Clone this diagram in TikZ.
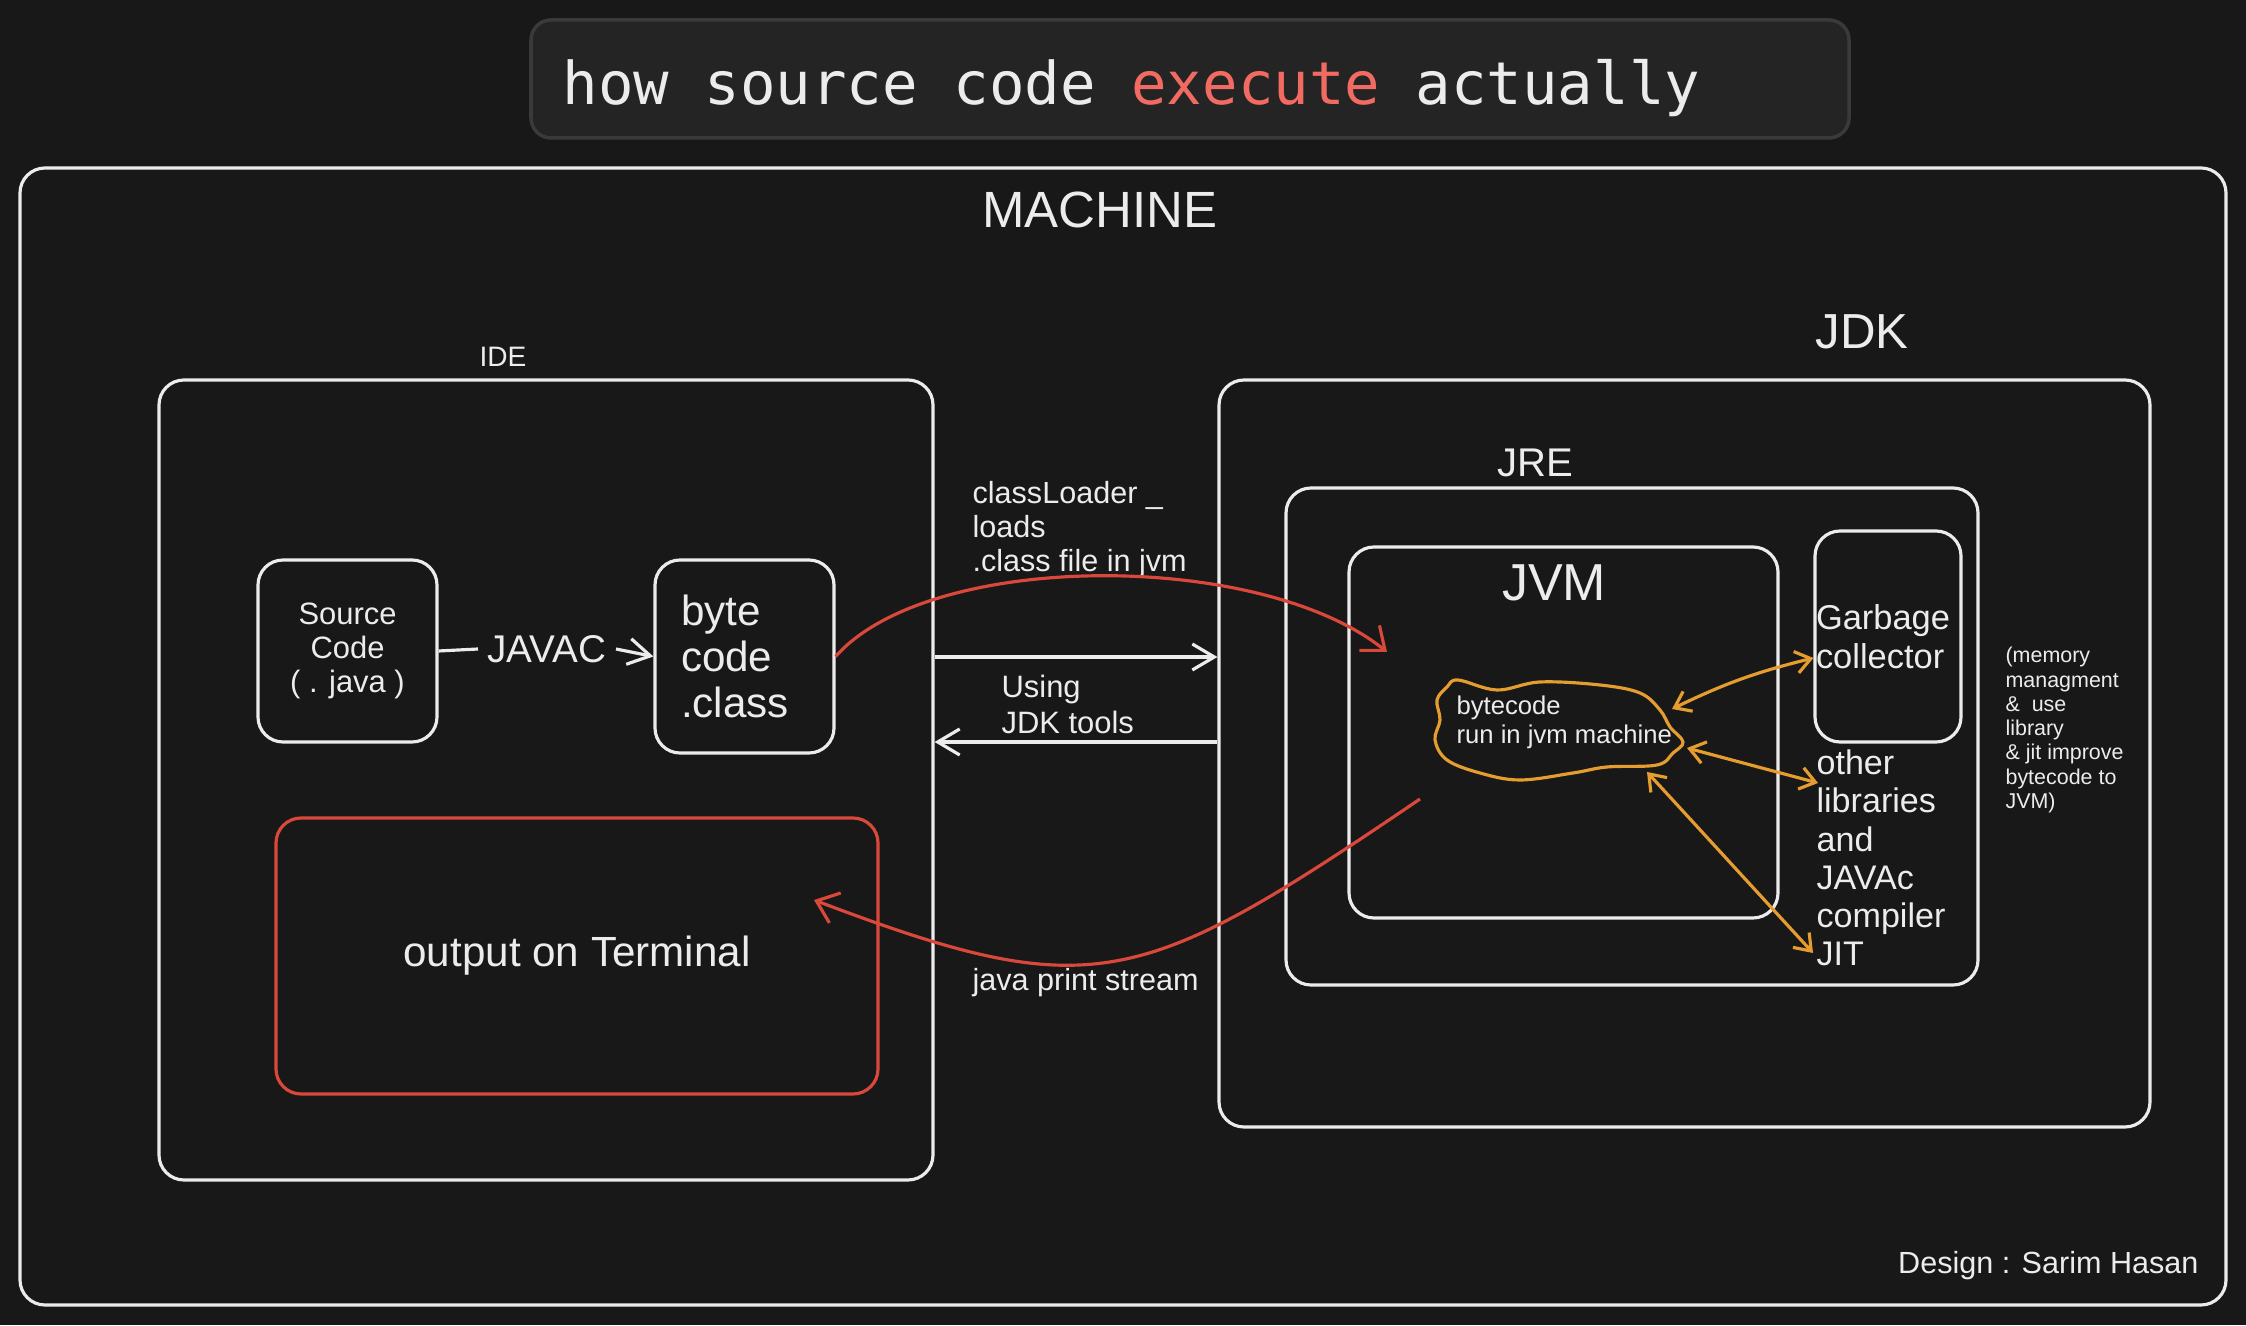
\documentclass[tikz,border=0pt]{standalone}
\usepackage{fontspec}
\setmainfont{Liberation Sans}
\newfontfamily\titlemono{DejaVu Sans Mono}
\usetikzlibrary{arrows.meta}

\definecolor{bgdark}{HTML}{181818}
\definecolor{bannerfill}{HTML}{242424}
\definecolor{bannerline}{HTML}{3A3A3A}
\definecolor{chalk}{HTML}{ECECEC}
\definecolor{penred}{HTML}{D9483B}
\definecolor{penorange}{HTML}{E59D2F}
\definecolor{salmon}{HTML}{F26B63}

\newcommand\fsz[2]{\fontsize{#1}{#2}\selectfont}

\begin{document}
\begin{tikzpicture}[line width=0.9pt,
	box/.style = {draw=chalk, rounded corners=0.25cm, inner sep=0pt},
	lbl/.style = {text=chalk, inner sep=0pt},
	whitearr/.style = {-{Straight Barb[length=0.22cm,width=0.26cm]}},
	redarr/.style = {-{Straight Barb[length=0.2cm,width=0.32cm]}},
	orarr/.style = {{Straight Barb[length=0.15cm,width=0.22cm]}-{Straight Barb[length=0.15cm,width=0.22cm]}}]
	
	% Background
	\fill[bgdark] (0,0) rectangle (22.46,13.25);
	
	% Title banner
	\node[draw=bannerline, fill=bannerfill, rounded corners=0.2cm, line width=1pt,
	      minimum width=13.18cm, minimum height=1.18cm] (banner) at (11.90,12.46) {};
	\node[lbl, anchor=west, font=\titlemono\fsz{16.8}{20}] (title) at (5.61,12.37)
	     {how source code \textcolor{salmon}{execute} actually};
	
	% Machine frame
	\node[box, minimum width=22.06cm, minimum height=11.37cm] (machine) at (11.23,5.885) {};
	\node[lbl, font=\fsz{14.5}{17}] (machinelbl) at (11.00,11.15) {MACHINE};
	
	% IDE side
	\node[box, minimum width=7.74cm, minimum height=8cm] (ide) at (5.46,5.45) {};
	\node[lbl, font=\fsz{8}{9}] (idelbl) at (5.03,9.68) {IDE};
	
	\node[box, minimum width=1.79cm, minimum height=1.82cm, align=center, text=chalk,
	      font=\fsz{8.8}{9.7}] (src) at (3.475,6.74) {Source\\Code\\( . java )};
	\node[lbl, inner xsep=0.08cm, font=\fsz{11}{13}] (javac) at (5.47,6.76) {JAVAC};
	\node[box, minimum width=1.79cm, minimum height=1.93cm, text width=1.27cm, align=left,
	      text=chalk, font=\fsz{12}{13.1}] (byte) at (7.445,6.685) {byte\\code\\.class};
	
	\node[box, draw=penred, minimum width=6.02cm, minimum height=2.76cm, text=chalk,
	      font=\fsz{12}{14}] (output) at (5.77,3.69) {output on Terminal};
	
	% JDK side
	\node[box, minimum width=9.31cm, minimum height=7.47cm] (jdk) at (16.845,5.715) {};
	\node[lbl, font=\fsz{14}{16}] (jdklbl) at (18.62,9.93) {JDK};
	
	\node[box, minimum width=6.92cm, minimum height=4.97cm] (jre) at (16.32,5.885) {};
	\node[lbl, font=\fsz{11.4}{13}] (jrelbl) at (15.35,8.62) {JRE};
	
	\node[box, minimum width=4.29cm, minimum height=3.71cm] (jvm) at (15.635,5.925) {};
	\node[lbl, font=\fsz{14.8}{17}] (jvmlbl) at (15.54,7.42) {JVM};
	
	\node[box, minimum width=1.46cm, minimum height=2.11cm, text width=1.44cm, align=left,
	      text=chalk, font=\fsz{9.8}{11.1}] (gc) at (18.88,6.885) {Garbage\\collector};
	\node[lbl, anchor=west, align=left, font=\fsz{9.7}{10.9}] (otherlib) at (18.15,4.67)
	     {other\\libraries\\and\\JAVAc\\compiler\\JIT};
	\node[lbl, anchor=west, align=left, font=\fsz{6.1}{6.9}] (note) at (20.04,5.95)
	     {(memory\\managment\\\& \ use\\library\\\& jit improve\\bytecode to\\JVM)};
	
	% Bytecode cloud
	\draw[penorange] plot[smooth cycle, tension=0.6] coordinates {
		(14.58,6.45) (14.97,6.35) (15.40,6.43) (16.00,6.40) (16.40,6.32)
		(16.60,6.15) (16.70,5.98) (16.83,5.83) (16.73,5.72) (16.57,5.60)
		(16.07,5.58) (15.73,5.52) (15.20,5.45) (14.80,5.52) (14.47,5.65)
		(14.35,5.85) (14.40,6.05) (14.37,6.25) (14.47,6.38)};
	\node[lbl, anchor=west, align=left, font=\fsz{7.3}{8.25}] (bc) at (14.55,6.03)
	     {bytecode\\run in jvm machine};
	
	% Labels between IDE and JDK
	\node[lbl, anchor=west, align=left, font=\fsz{8.7}{9.7}] (loader) at (9.71,7.95)
	     {classLoader \_\\loads\\.class file in jvm};
	\node[lbl, anchor=west, align=left, font=\fsz{8.8}{10}] (tools) at (10.00,6.205)
	     {Using\\JDK tools};
	\node[lbl, anchor=west, font=\fsz{8.7}{10}] (stream) at (9.71,3.42) {java print stream};
	
	\node[lbl, anchor=east, font=\fsz{8.7}{10}] (credit) at (22.00,0.59) {Design : Sarim Hasan};
	
	% Connector end points
	\coordinate (clTip) at (13.87,6.73);
	\coordinate (psStart) at (14.20,5.26);
	\coordinate (psEnd) at (8.14,4.25);
	\coordinate (cgc) at (16.72,6.16);
	\coordinate (clib) at (16.87,5.77);
	\coordinate (libTip) at (18.18,5.42);
	\coordinate (cjit) at (16.47,5.53);
	\coordinate (jitTip) at (18.13,3.72);
	
	% White connectors
	\draw[chalk] (src.east) -- (javac.west);
	\draw[chalk, whitearr] (javac.east) -- (byte.west);
	\draw[chalk, whitearr] (ide.east |- 0,6.68) -- (jdk.west |- 0,6.68);
	\draw[chalk, whitearr] (jdk.west |- 0,5.83) -- (ide.east |- 0,5.83);
	
	% Red flows
	\draw[penred, redarr] (byte.east) .. controls (9.3,7.75) and (12.6,7.75) .. (clTip);
	\draw[penred, redarr] (psStart) .. controls (11.4,3.36) and (10.94,3.19) .. (psEnd);
	
	% Orange links
	\draw[penorange, orarr] (cgc) to[bend left=6] (gc.west |- 0,6.67);
	\draw[penorange, orarr] (clib) -- (libTip);
	\draw[penorange, orarr] (cjit) -- (jitTip);
	
\end{tikzpicture}
\end{document}
